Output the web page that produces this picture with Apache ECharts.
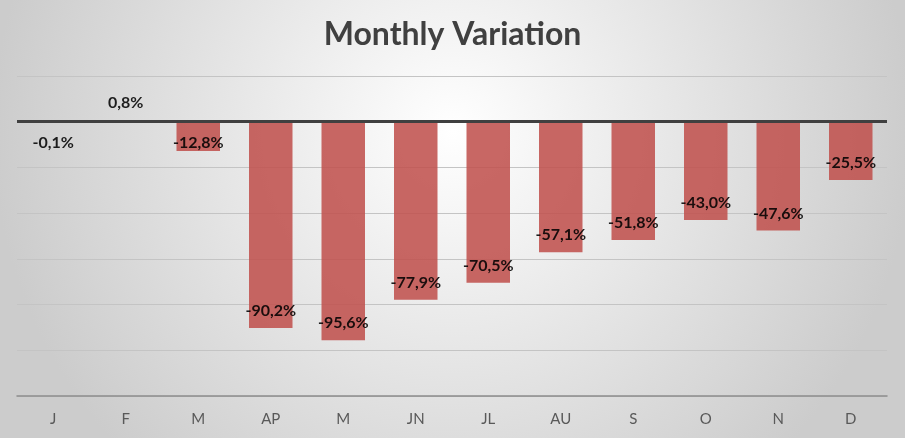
<!DOCTYPE html>
<html>
<head>
<meta charset="utf-8">
<title>Monthly Variation</title>
<script src="https://cdn.jsdelivr.net/npm/echarts@6/dist/echarts.min.js"></script>
<style>
  html, body { margin: 0; padding: 0; }
  #chart { width: 905px; height: 438px; }
</style>
</head>
<body>
<div id="chart"></div>
<script>
// month codes and the monthly variation in %
const months = ["J", "F", "M", "AP", "M", "JN", "JL", "AU", "S", "O", "N", "D"];
const variation = [-0.1, 0.8, -12.8, -90.2, -95.6, -77.9, -70.5, -57.1, -51.8, -43.0, -47.6, -25.5];

const fmt = (v) => v.toFixed(1).replace(".", ",") + "%";

// Excel places tiny bars' labels outside, so tweak those few
const barData = variation.map((v, i) => {
  const item = { value: v };
  if (v > 0) {
    item.label = { position: "top", distance: 9 };
  } else if (v > -5) {
    item.label = { position: "bottom", distance: 13 };
  } else if (v > -20) {
    item.label = { position: "insideBottom", distance: 0 };
  }
  return item;
});

const chart = echarts.init(document.getElementById("chart"));
chart.setOption({
  backgroundColor: {
    type: "radial",
    x: 0.5,
    y: 0.3,
    r: 1.05,
    colorStops: [
      { offset: 0, color: "#ffffff" },
      { offset: 1, color: "#cccccc" },
    ],
  },
  title: {
    text: "Monthly Variation",
    left: "center",
    top: 14,
    textStyle: {
      fontFamily: "Lato",
      fontSize: 32,
      fontWeight: "bold",
      color: "#404040",
    },
  },
  grid: {
    left: 17,
    right: 18,
    top: 76,
    bottom: 42,
  },
  xAxis: {
    type: "category",
    data: months,
    axisLine: { onZero: false, lineStyle: { color: "#8c8c8c", width: 1.5 } },
    axisTick: { show: false },
    axisLabel: {
      fontFamily: "Lato",
      fontSize: 15,
      color: "#595959",
      margin: 16,
    },
  },
  yAxis: {
    type: "value",
    min: -120,
    max: 20,
    interval: 20,
    axisLabel: { show: false },
    axisLine: { show: false },
    axisTick: { show: false },
    splitLine: { lineStyle: { color: "#c4c4c4", width: 1 } },
  },
  series: [
    {
      type: "bar",
      data: barData,
      barWidth: "60%",
      itemStyle: { color: "#C0504D", opacity: 0.87 },
      label: {
        show: true,
        position: "insideBottom",
        distance: 9,
        formatter: (p) => fmt(p.value),
        fontFamily: "Lato",
        fontSize: 16,
        fontWeight: "bold",
        color: "#000000",
      },
      markLine: {
        silent: true,
        symbol: "none",
        label: { show: false },
        lineStyle: { color: "#404040", width: 3, type: "solid" },
        data: [{ yAxis: 0 }],
        animation: false,
      },
      animation: false,
    },
  ],
});
</script>
</body>
</html>
